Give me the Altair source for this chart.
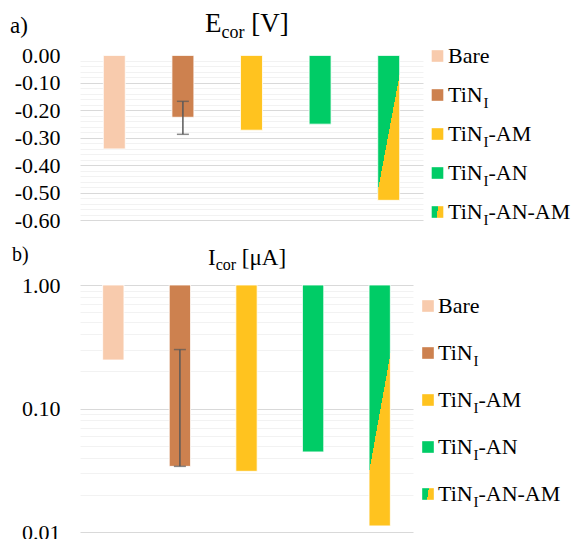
import altair as alt
import numpy as np
import pandas as pd

# ---------------- data ----------------
cats = ["Bare", "TiN_I", "TiN_I-AM", "TiN_I-AN", "TiN_I-AN-AM"]
leg_main = ["Bare", "TiN", "TiN", "TiN", "TiN"]
leg_sub = ["", "I", "I", "I", "I"]
leg_rest = ["", "", "-AM", "-AN", "-AN-AM"]

e_cor = [-0.340, -0.225, -0.272, -0.250, -0.527]   # V
e_err_lo = [-0.287]
e_err_hi = [-0.167]

i_cor = [0.247, 0.034, 0.031, 0.0445, 0.0112]     # µA
i_err_lo = [0.034]
i_err_hi = [0.30]

err_cat = ["TiN_I"]

# ---------------- style ----------------
FONT = "'Liberation Serif', 'Times New Roman', serif"
colors = ["#F8CBAD", "#CD814F", "#FFC31F", "#00CC66"]
GREEN, YELLOW = "#00CC66", "#FFC31F"
MAJOR, MINOR = "#D9D9D9", "#F2F2F2"


def split_gradient(p, q):
    """Sharp two-colour linear gradient split along the line p->q (normalised bbox)."""
    ux, uy = q[0] - p[0], q[1] - p[1]
    nx, ny = uy, -ux
    mx, my = (p[0] + q[0]) / 2, (p[1] + q[1]) / 2
    s = 0.2
    return {
        "gradient": "linear",
        "x1": mx - s * nx, "y1": my - s * ny,
        "x2": mx + s * nx, "y2": my + s * ny,
        "stops": [
            {"offset": 0, "color": GREEN},
            {"offset": 0.5, "color": GREEN},
            {"offset": 0.5, "color": YELLOW},
            {"offset": 1, "color": YELLOW},
        ],
    }


legend_grad = split_gradient((0.56, 0.0), (0.42, 1.0))

df_leg = pd.DataFrame({"cat": cats, "main": leg_main, "sub": leg_sub, "rest": leg_rest})

W_TIN = 1.611 * 22  # width of "TiN" at 22 px (Times metrics)


def legend_layers(sq_x, txt_x, rows):
    ly = alt.Y("cat:N", sort=cats,
               scale=alt.Scale(type="point", domain=cats, range=rows, padding=0),
               axis=None)
    base = alt.Chart(df_leg)
    sq = base.transform_filter(alt.datum.cat != cats[-1]).mark_square(
        size=135, opacity=1).encode(
        x=alt.value(sq_x), y=ly,
        color=alt.Color("cat:N", scale=alt.Scale(domain=cats[:4], range=colors), legend=None))
    sq5 = base.transform_filter(alt.datum.cat == cats[-1]).mark_square(
        size=135, opacity=1, color=legend_grad).encode(x=alt.value(sq_x), y=ly)
    t_main = base.mark_text(align="left", baseline="alphabetic", dy=7, font=FONT,
                            fontSize=22, color="black").encode(
        x=alt.value(txt_x), y=ly, text="main:N")
    t_sub = base.mark_text(align="left", baseline="alphabetic", dy=13, font=FONT,
                           fontSize=15, color="black").encode(
        x=alt.value(txt_x + W_TIN), y=ly, text="sub:N")
    t_rest = base.mark_text(align="left", baseline="alphabetic", dy=7, font=FONT,
                            fontSize=22, color="black").encode(
        x=alt.value(txt_x + W_TIN + 0.333 * 15), y=ly, text="rest:N")
    return alt.layer(sq, sq5, t_main, t_sub, t_rest)


def text_piece(t, x, y, size):
    return alt.Chart(pd.DataFrame({"t": [t]})).mark_text(
        align="left", baseline="alphabetic", font=FONT, fontSize=size, color="black"
    ).encode(text="t:N", x=alt.value(x), y=alt.value(y))


def make_axis(values, major_test, label_expr, hide_zero=False):
    kw = {}
    if hide_zero:
        kw["gridOpacity"] = {"condition": {"test": "abs(datum.value) < 0.000001", "value": 0},
                             "value": 1}
    return alt.Axis(
        values=values, labelExpr=label_expr,
        ticks=False, tickSize=0, domain=False, labelPadding=20,
        labelFont=FONT, labelFontSize=22, labelColor="black",
        labelFlush=False, labelOverlap=False, labelBound=False,
        gridColor={"condition": {"test": major_test, "value": MAJOR}, "value": MINOR},
        gridWidth=1, minExtent=80, maxExtent=80, title=None, **kw,
    )


# ================= panel a) E_cor =================
W1, H1 = 343, 240
y_scale1 = alt.Scale(domain=[-0.6, 0], range=[220.4, 55.4], nice=False, zero=False)
x_scale1 = alt.Scale(domain=cats, paddingInner=0.68, paddingOuter=0.34)
x1 = alt.X("cat:N", sort=cats, scale=x_scale1, axis=None)

grid1 = [round(-0.02 * k, 2) for k in range(30, -1, -1)]
is_major1 = "abs(datum.value*10 - round(datum.value*10)) < 0.000001"
axis1 = make_axis(
    grid1, is_major1,
    f"({is_major1}) ? ((datum.value < -0.000001 ? '-' : '') + format(abs(datum.value), '.2f')) : ''",
    hide_zero=True)

df_e = pd.DataFrame({"cat": cats, "val": e_cor})
df_e_err = pd.DataFrame({"cat": err_cat, "lo": e_err_lo, "hi": e_err_hi})

bars1 = alt.Chart(df_e).transform_filter(alt.datum.cat != cats[-1]).mark_bar(
    stroke="white", strokeWidth=0.8).encode(
    x=x1, y=alt.Y("val:Q", scale=y_scale1, axis=axis1), y2=alt.datum(0),
    color=alt.Color("cat:N", scale=alt.Scale(domain=cats[:4], range=colors), legend=None))
split1 = alt.Chart(df_e).transform_filter(alt.datum.cat == cats[-1]).mark_bar(
    color=split_gradient((1.0, 0.13), (0.0, 0.94)), stroke="white", strokeWidth=0.8).encode(
    x=x1, y=alt.Y("val:Q", scale=y_scale1, axis=axis1), y2=alt.datum(0))
err1 = alt.Chart(df_e_err).mark_rule(color="#595959", strokeWidth=1.5).encode(
    x=x1, y=alt.Y("lo:Q", scale=y_scale1, axis=axis1), y2="hi:Q")
cap1 = alt.Chart(df_e_err).transform_fold(["lo", "hi"], as_=["k", "v"]).mark_tick(
    orient="horizontal", size=12, thickness=1.5, color="#595959").encode(
    x=x1, y=alt.Y("v:Q", scale=y_scale1, axis=axis1))

title1 = alt.layer(
    text_piece("a)", -70, 33, 23),
    text_piece("E", 125, 32, 27),
    text_piece("cor", 125 + 0.611 * 27, 38, 18),
    text_piece("[V]", 125 + 0.611 * 27 + 1.277 * 18 + 0.25 * 27, 32, 27),
)

main1 = alt.layer(bars1, split1, err1, cap1, title1)
leg1 = legend_layers(357.5, 368, [56, 212])
panel1 = alt.layer(main1, leg1).resolve_scale(y="independent").properties(width=W1, height=H1)

# ================= panel b) I_cor =================
W2, H2 = 333, 299
y_scale2 = alt.Scale(type="log", domain=[0.01, 1], range=[292, 45], nice=False)
x_scale2 = alt.Scale(domain=cats, paddingInner=0.68, paddingOuter=0.34)
x2 = alt.X("cat:N", sort=cats, scale=x_scale2, axis=None)

grid2 = [round(m * 10.0 ** e, 4) for e in (-2, -1) for m in range(1, 10)] + [1.0]
is_major2 = "abs(log(datum.value)/LN10 - round(log(datum.value)/LN10)) < 0.000001"
axis2 = make_axis(grid2, is_major2, f"({is_major2}) ? format(datum.value, '.2f') : ''")

df_i = pd.DataFrame({"cat": cats, "val": i_cor})
df_i_err = pd.DataFrame({"cat": err_cat, "lo": i_err_lo, "hi": i_err_hi})

bars2 = alt.Chart(df_i).transform_filter(alt.datum.cat != cats[-1]).mark_bar(
    stroke="white", strokeWidth=0.8).encode(
    x=x2, y=alt.Y("val:Q", scale=y_scale2, axis=axis2), y2=alt.datum(1),
    color=alt.Color("cat:N", scale=alt.Scale(domain=cats[:4], range=colors), legend=None))
split2 = alt.Chart(df_i).transform_filter(alt.datum.cat == cats[-1]).mark_bar(
    color=split_gradient((1.0, 0.287), (0.0, 0.777)), stroke="white", strokeWidth=0.8).encode(
    x=x2, y=alt.Y("val:Q", scale=y_scale2, axis=axis2), y2=alt.datum(1))
err2 = alt.Chart(df_i_err).mark_rule(color="#595959", strokeWidth=1.5).encode(
    x=x2, y=alt.Y("lo:Q", scale=y_scale2, axis=axis2), y2="hi:Q")
cap2 = alt.Chart(df_i_err).transform_fold(["lo", "hi"], as_=["k", "v"]).mark_tick(
    orient="horizontal", size=12, thickness=1.5, color="#595959").encode(
    x=x2, y=alt.Y("v:Q", scale=y_scale2, axis=axis2))

title2 = alt.layer(
    text_piece("b)", -68, 21, 20),
    text_piece("I", 128, 25, 23),
    text_piece("cor", 128 + 0.333 * 23, 30, 16),
    text_piece("[μA]", 128 + 0.333 * 23 + 1.277 * 16 + 0.25 * 23, 25, 23),
)

main2 = alt.layer(bars2, split2, err2, cap2, title2)
leg2 = legend_layers(348, 358, [66, 254])
panel2 = alt.layer(main2, leg2).resolve_scale(y="independent").properties(width=W2, height=H2)

chart = alt.vconcat(panel1, panel2, spacing=0).properties(
    padding=0, background="white"
).configure_view(stroke=None)

chart.save("out.html", embed_options={"renderer": "svg", "actions": False})
